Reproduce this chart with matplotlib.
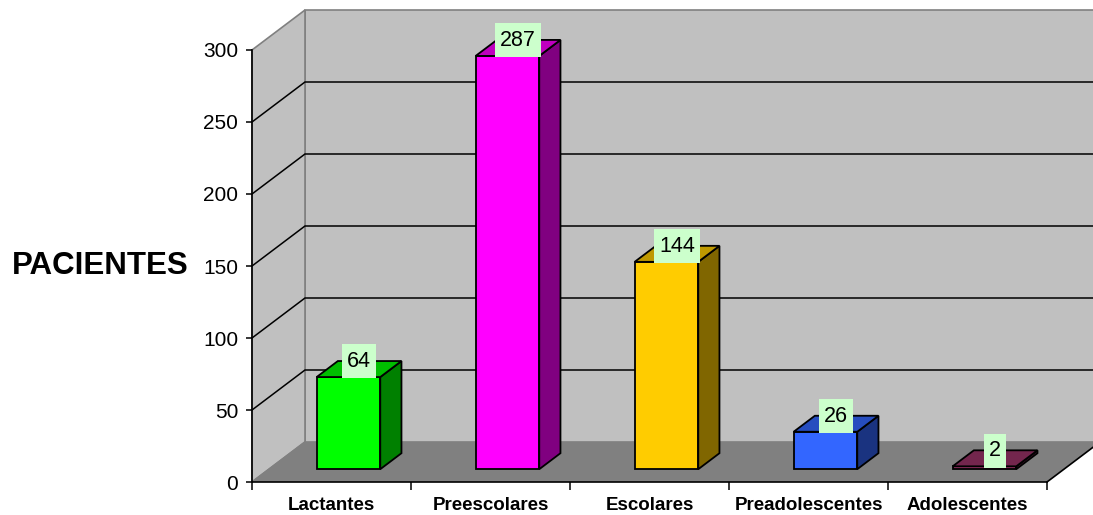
import matplotlib
matplotlib.use("Agg")
import matplotlib.pyplot as plt
from matplotlib.patches import Polygon
from matplotlib.path import Path
from matplotlib.colors import to_rgb

categories = ["Lactantes", "Preescolares", "Escolares", "Preadolescentes", "Adolescentes"]
values = [64, 287, 144, 26, 2]
colors = ["#00FF00", "#FF00FF", "#FFCC00", "#3366FF", "#993366"]
yticks = [0, 50, 100, 150, 200, 250, 300]
ylabel = "PACIENTES"

plt.rcParams["font.family"] = ["Liberation Sans", "DejaVu Sans"]

W, H = 1093, 515
fig = plt.figure(figsize=(W / 100, H / 100), dpi=100)
ax = fig.add_axes([252 / W, 33 / H, 795 / W, 432 / H])
ax.set_facecolor("none")
n = len(categories)
ymax = 300
ax.set_xlim(0, n)
ax.set_ylim(0, ymax)

# depth projection (in data units)
DX = 53 / 159.0
DY = 40 / (432 / ymax)

wall_c = "#C0C0C0"
floor_c = "#808080"
edge_c = "#808080"

def poly(pts, fc, ec, lw=1.0, z=1):
    p = Polygon(pts, closed=True, facecolor=fc, edgecolor=ec, linewidth=lw,
                clip_on=False, zorder=z, joinstyle="miter")
    ax.add_patch(p)

def label_box(x0, y0, width, height, mutation_size):
    px = 0.22 * mutation_size
    py = 0.30 * mutation_size
    x0, y0 = x0 - px, y0 - py
    x1, y1 = x0 + width + 2 * px, y0 + height + 2 * py
    return Path([(x0, y0), (x1, y0), (x1, y1), (x0, y1), (x0, y0)], closed=True)

# back wall
poly([(DX, DY), (n + DX, DY), (n + DX, ymax + DY), (DX, ymax + DY)], wall_c, edge_c, 1.2, 1)
# side wall
poly([(0, 0), (DX, DY), (DX, ymax + DY), (0, ymax)], wall_c, edge_c, 1.2, 1)
# floor
poly([(0, 0), (n, 0), (n + DX, DY), (DX, DY)], floor_c, "none", 0, 1)
ax.plot([n, n + DX], [0, DY], color="black", lw=1.2, clip_on=False, zorder=2)
ax.plot([0, DX], [0, DY], color=edge_c, lw=1.2, clip_on=False, zorder=2)

# gridlines
for v in yticks[1:-1]:
    ax.plot([0, DX, n + DX], [v, v + DY, v + DY], color="black", lw=1.1,
            clip_on=False, zorder=2, solid_joinstyle="miter")

# bars
bw = 0.4
f0, df = 0.32, 0.40
def shade(c, k):
    r, g, b = to_rgb(c)
    return (r * k, g * k, b * k)

for i, (v, c) in enumerate(zip(values, colors)):
    x0 = i + 0.5 - bw / 2 + f0 * DX
    x1 = x0 + bw
    y0 = f0 * DY
    y1 = y0 + v
    ddx, ddy = df * DX, df * DY
    # front
    poly([(x0, y0), (x1, y0), (x1, y1), (x0, y1)], c, "black", 1.3, 3)
    # side
    poly([(x1, y0), (x1 + ddx, y0 + ddy), (x1 + ddx, y1 + ddy), (x1, y1)], shade(c, 0.5), "black", 1.3, 3)
    # top
    poly([(x0, y1), (x1, y1), (x1 + ddx, y1 + ddy), (x0 + ddx, y1 + ddy)], shade(c, 0.75), "black", 1.3, 3)
    ax.annotate(str(v), xy=((x0 + x1) / 2 + ddx / 2, y1 + ddy / 2), xytext=(0, 5.5),
                textcoords="offset points", ha="center", va="center", fontsize=15.5,
                zorder=5, annotation_clip=False,
                bbox=dict(boxstyle=label_box, facecolor="#CCFFCC", edgecolor="none"))

# axes styling
for s in ["top", "right"]:
    ax.spines[s].set_visible(False)
for s in ["left", "bottom"]:
    ax.spines[s].set_color("black")
    ax.spines[s].set_linewidth(1.2)
    ax.spines[s].set_zorder(4)

ax.set_yticks(yticks)
ax.set_yticklabels([str(t) for t in yticks])
ax.tick_params(axis="y", direction="out", length=4.5, width=1.1, pad=5.5, labelsize=15)

ax.set_xticks(range(n + 1))
ax.set_xticklabels([])
ax.set_xticks([i + 0.5 for i in range(n)], minor=True)
ax.set_xticklabels(categories, minor=True, fontsize=13.5, fontweight="bold")
ax.tick_params(axis="x", which="major", direction="out", length=6, width=1.1)
ax.tick_params(axis="x", which="minor", length=0, pad=10.5)

fig.text(12 / W, 1 - 266 / H, ylabel, ha="left", va="center", fontsize=22.5, fontweight="bold")

fig.savefig("out.png", dpi=100)
